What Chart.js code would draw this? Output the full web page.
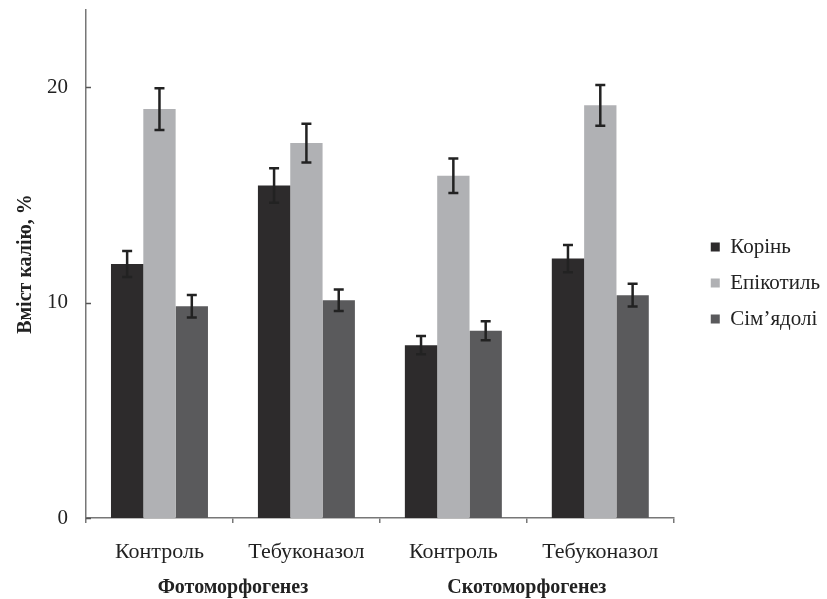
<!DOCTYPE html>
<html>
<head>
<meta charset="utf-8">
<script src="https://cdn.jsdelivr.net/npm/chart.js@4.4.1/dist/chart.umd.min.js"></script>
<style>
html,body{margin:0;padding:0;background:#fff;}
#wrap{width:827px;height:599px;}
</style>
</head>
<body>
<div id="wrap"><canvas id="c" width="827" height="599"></canvas></div>
<script>
const categories = ['Контроль', 'Тебуконазол', 'Контроль', 'Тебуконазол'];
const groups = ['Фотоморфогенез', 'Скотоморфогенез'];
const seriesNames = ['Корінь', 'Епікотиль', 'Сім’ядолі'];
const korin = [11.8, 15.45, 8.03, 12.05];
const korinErr = [0.6, 0.8, 0.42, 0.63];
const epikotyl = [19.0, 17.42, 15.9, 19.17];
const epikotylErr = [0.97, 0.9, 0.8, 0.95];
const simyadoli = [9.84, 10.12, 8.7, 10.35];
const simyadoliErr = [0.52, 0.5, 0.44, 0.53];
const yTicks = [0, 10, 20];
const yTitle = 'Вміст калію, %';

const colors = ['#2d2b2c', '#b0b1b4', '#5a5a5c'];
const serif = '"Liberation Serif", "DejaVu Serif", serif';

const errorBars = {
  id: 'errorBars',
  afterDatasetsDraw(chart) {
    const ctx = chart.ctx;
    const y = chart.scales.y;
    ctx.save();
    ctx.strokeStyle = '#222';
    ctx.lineWidth = 2.5;
    chart.data.datasets.forEach((ds, di) => {
      const meta = chart.getDatasetMeta(di);
      meta.data.forEach((bar, i) => {
        const v = ds.data[i], e = ds.errors[i];
        const yt = y.getPixelForValue(v + e), yb = y.getPixelForValue(v - e);
        const x = bar.x;
        ctx.beginPath();
        ctx.moveTo(x, yt); ctx.lineTo(x, yb);
        ctx.moveTo(x - 5, yt); ctx.lineTo(x + 5, yt);
        ctx.moveTo(x - 5, yb); ctx.lineTo(x + 5, yb);
        ctx.stroke();
      });
    });
    ctx.restore();
  }
};

const extras = {
  id: 'extras',
  afterDraw(chart) {
    const ctx = chart.ctx;
    const x = chart.scales.x, y = chart.scales.y;
    ctx.save();
    ctx.strokeStyle = '#555';
    ctx.lineWidth = 1.5;
    yTicks.forEach(t => {
      const py = Math.round(y.getPixelForValue(t)) + 0.5;
      ctx.beginPath();
      ctx.moveTo(chart.chartArea.left, py);
      ctx.lineTo(chart.chartArea.left + 5, py);
      ctx.stroke();
    });
    ctx.fillStyle = '#222';
    ctx.font = 'bold 20px ' + serif;
    ctx.textAlign = 'center';
    ctx.textBaseline = 'middle';
    groups.forEach((g, gi) => {
      const px = (x.getPixelForValue(gi * 2) + x.getPixelForValue(gi * 2 + 1)) / 2;
      ctx.fillText(g, px, 588);
    });
    ctx.restore();
  }
};

const datasets = [
  {label: seriesNames[0], data: korin, errors: korinErr, backgroundColor: colors[0]},
  {label: seriesNames[1], data: epikotyl, errors: epikotylErr, backgroundColor: colors[1]},
  {label: seriesNames[2], data: simyadoli, errors: simyadoliErr, backgroundColor: colors[2]}
].map(d => Object.assign(d, {borderWidth: 0, categoryPercentage: 0.66, barPercentage: 1.0}));

new Chart(document.getElementById('c'), {
  type: 'bar',
  data: {labels: categories, datasets},
  plugins: [errorBars, extras],
  options: {
    responsive: false,
    animation: false,
    devicePixelRatio: 1,
    layout: {padding: {top: 2, bottom: 35, left: 0, right: -3}},
    plugins: {
      legend: {
        position: 'right',
        labels: {
          boxWidth: 9, boxHeight: 9, padding: 15,
          color: '#222',
          font: {family: serif, size: 21}
        }
      },
      tooltip: {enabled: false}
    },
    scales: {
      x: {
        grid: {display: true, drawOnChartArea: false, offset: true, tickLength: 5, color: '#777', lineWidth: 1.5},
        border: {color: '#777', width: 1.5},
        ticks: {color: '#222', font: {family: serif, size: 22}, padding: 16, maxRotation: 0},
        afterFit(s) { s.height = 46; }
      },
      y: {
        min: 0, max: 23.6,
        grid: {display: false},
        border: {color: '#777', width: 1.5},
        ticks: {stepSize: 10, includeBounds: false, color: '#222', font: {family: serif, size: 21}, padding: 10},
        title: {display: true, text: yTitle, color: '#222', font: {family: serif, size: 20, weight: 'bold'}, padding: {top: 14, bottom: 0}},
        afterFit(s) { s.width = 86; s.paddingTop = 10; s.paddingBottom = 0; }
      },
      spacer: {
        type: 'linear',
        position: 'right',
        display: true,
        grid: {display: false},
        border: {display: false},
        ticks: {display: false},
        afterFit(s) { s.width = 22; s.paddingTop = 0; s.paddingBottom = 0; }
      }
    }
  }
});
</script>
</body>
</html>
